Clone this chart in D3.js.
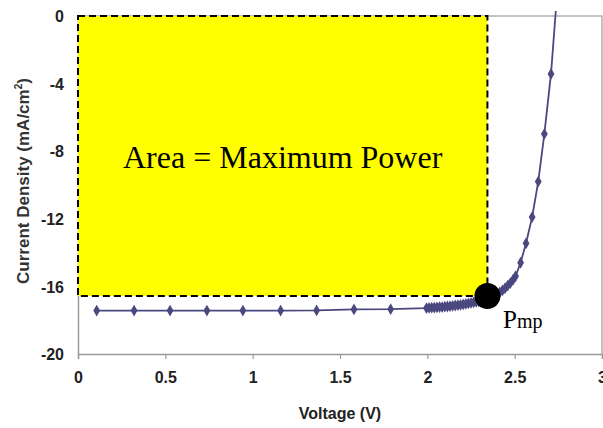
<!DOCTYPE html>
<html>
<head>
<meta charset="utf-8">
<script src="https://cdn.jsdelivr.net/npm/d3@7"></script>
<style>
  body { margin: 0; background: #fff; }
  svg { display: block; }
</style>
</head>
<body>
<svg width="603" height="428"></svg>
<script>
const width = 603, height = 428

// I-V curve
const voltage = [0.107, 0.321, 0.527, 0.738, 0.944, 1.160, 1.366, 1.580, 1.790,
    1.995, 2.010, 2.025, 2.040, 2.055, 2.070, 2.085, 2.100, 2.115, 2.130, 2.145,
    2.160, 2.175, 2.190, 2.205, 2.220, 2.235, 2.250, 2.265, 2.280, 2.295, 2.310,
    2.325, 2.340, 2.355, 2.370, 2.385, 2.400, 2.415, 2.430, 2.445, 2.460, 2.475,
    2.490, 2.505, 2.534, 2.565, 2.600, 2.635, 2.670, 2.708, 2.745]
const current = [-17.43, -17.43, -17.43, -17.43, -17.43, -17.43, -17.42, -17.36, -17.35,
    -17.28, -17.27, -17.26, -17.25, -17.24, -17.23, -17.22, -17.20, -17.19, -17.17, -17.15,
    -17.13, -17.11, -17.09, -17.07, -17.04, -17.01, -16.97, -16.94, -16.91, -16.88, -16.84,
    -16.80, -16.75, -16.69, -16.62, -16.54, -16.45, -16.35, -16.24, -16.11, -15.96, -15.80,
    -15.62, -15.40, -14.60, -13.45, -11.90, -9.80, -6.98, -3.43, 1.60]

const xTicks = [0, 0.5, 1, 1.5, 2, 2.5, 3]
const yTicks = [0, -4, -8, -12, -16, -20]
const pmp = [2.344, -16.57]

const svg = d3.select('svg')

const x = d3.scaleLinear().domain([0, 3]).range([78, 602])
const y = d3.scaleLinear().domain([0, -20]).range([16, 354])

const sans = 'Liberation Sans, Arial, sans-serif'
const serif = 'Liberation Serif, Times New Roman, serif'

// plot frame (top and right)
svg.append('path')
    .attr('d', `M${x(0)},${y(0)}H${x(3)}V${y(-20)}`)
    .attr('fill', 'none')
    .attr('stroke', '#b0b0b0')
    .attr('stroke-width', 1.5)

// x axis
const xAxis = svg.append('g')
    .attr('transform', `translate(0,${y(-20)})`)
    .call(d3.axisBottom(x).tickValues(xTicks).tickSize(5).tickPadding(13)
        .tickFormat(d => String(d)))
xAxis.select('.domain').attr('stroke', '#9a9a9a').attr('stroke-width', 1.5)
xAxis.selectAll('.tick line').attr('stroke', '#9a9a9a').attr('stroke-width', 1.2)
xAxis.selectAll('text')
    .style('font-family', sans)
    .style('font-size', '16px')
    .style('font-weight', 'bold')
    .attr('fill', '#222')

// y axis
const yAxis = svg.append('g')
    .attr('transform', `translate(${x(0)},0)`)
    .call(d3.axisLeft(y).tickValues(yTicks).tickSize(0).tickPadding(14)
        .tickFormat(d => String(d)))
yAxis.select('.domain').attr('stroke', '#9a9a9a').attr('stroke-width', 1.5)
yAxis.selectAll('text')
    .attr('dy', '0.36em')
    .style('font-family', sans)
    .style('font-size', '16px')
    .style('font-weight', 'bold')
    .attr('fill', '#222')

// axis titles
svg.append('text')
    .attr('x', 340)
    .attr('y', 419)
    .attr('text-anchor', 'middle')
    .style('font-family', sans)
    .style('font-size', '16px')
    .style('font-weight', 'bold')
    .attr('fill', '#222')
    .text('Voltage (V)')

const yTitle = svg.append('text')
    .attr('transform', 'translate(29,181) rotate(-90)')
    .attr('text-anchor', 'middle')
    .style('font-family', sans)
    .style('font-size', '17px')
    .style('font-weight', 'bold')
    .attr('fill', '#333')
yTitle.append('tspan').text('Current Density (mA/cm')
yTitle.append('tspan').attr('dy', -7).style('font-size', '10px').text('2')
yTitle.append('tspan').attr('dy', 7).text(')')

// yellow maximum power rectangle
svg.append('rect')
    .attr('x', x(0))
    .attr('y', y(0))
    .attr('width', x(pmp[0]) - x(0))
    .attr('height', y(pmp[1]) - y(0))
    .attr('fill', '#ffff00')
    .attr('stroke', '#000')
    .attr('stroke-width', 2)
    .attr('stroke-dasharray', '7,4')

// curve
svg.append('clipPath').attr('id', 'clip')
    .append('rect')
    .attr('x', x(0)).attr('y', 11)
    .attr('width', x(3) - x(0)).attr('height', y(-20) - 11)

const points = voltage.map((v, i) => [v, current[i]])
const curve = svg.append('g').attr('clip-path', 'url(#clip)')
curve.append('path')
    .datum(points)
    .attr('d', d3.line().x(d => x(d[0])).y(d => y(d[1])))
    .attr('fill', 'none')
    .attr('stroke', '#4b4880')
    .attr('stroke-width', 1.8)
curve.selectAll('path.marker')
    .data(points.slice(0, -1))
    .enter()
    .append('path')
    .attr('class', 'marker')
    .attr('d', d3.symbol(d3.symbolDiamond, 40))
    .attr('transform', d => `translate(${x(d[0])},${y(d[1])})`)
    .attr('fill', '#4b4880')

// maximum power point
svg.append('circle')
    .attr('cx', x(pmp[0]))
    .attr('cy', y(pmp[1]))
    .attr('r', 13)
    .attr('fill', '#000')

svg.append('text')
    .attr('x', 123)
    .attr('y', 168)
    .style('font-family', serif)
    .style('font-size', '32px')
    .attr('fill', '#000')
    .text('Area = Maximum Power')

const pLabel = svg.append('text')
    .attr('x', 503)
    .attr('y', 328)
    .style('font-family', serif)
    .attr('fill', '#000')
pLabel.append('tspan').style('font-size', '25px').text('P')
pLabel.append('tspan').style('font-size', '20px').text('mp')
</script>
</body>
</html>
